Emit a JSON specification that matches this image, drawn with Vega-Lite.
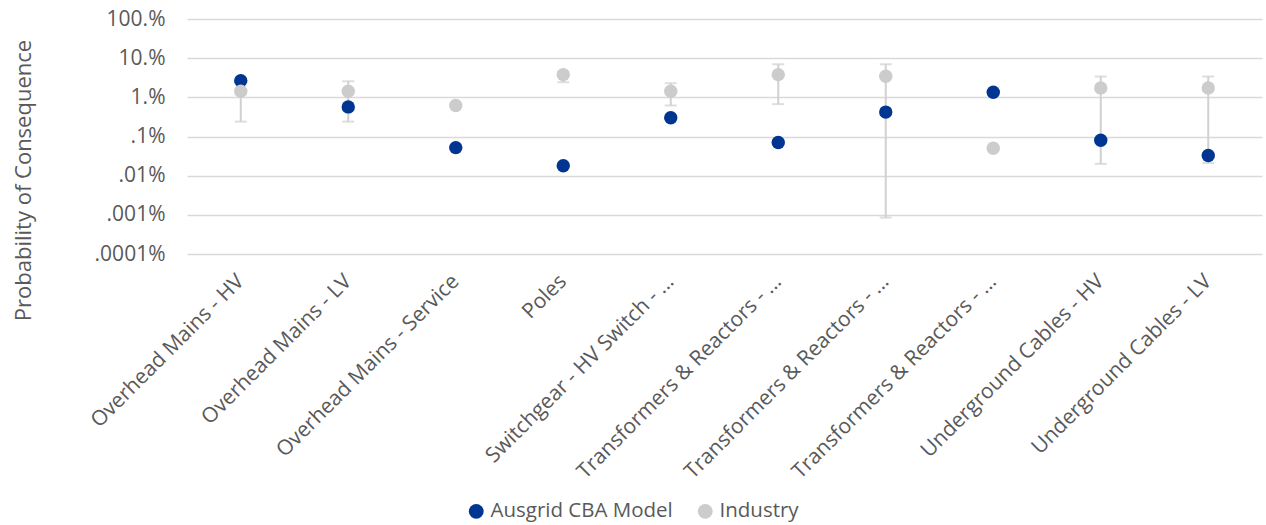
{
  "$schema": "https://vega.github.io/schema/vega-lite/v6.json",
  "width": 1075,
  "height": 235,
  "autosize": "none",
  "padding": {"left": 187, "top": 19, "right": 4, "bottom": 271},
  "background": "white",
  "config": {
    "view": {"stroke": null},
    "font": "Open Sans",
    "axis": {"labelFont": "Open Sans", "titleFont": "Open Sans", "labelColor": "#595959", "titleColor": "#595959"}
  },
  "data": {
    "values": [
      {"category": "Overhead Mains - HV", "series": "Ausgrid CBA Model", "value": 2.67},
      {"category": "Overhead Mains - LV", "series": "Ausgrid CBA Model", "value": 0.57},
      {"category": "Overhead Mains - Service", "series": "Ausgrid CBA Model", "value": 0.052},
      {"category": "Poles", "series": "Ausgrid CBA Model", "value": 0.018},
      {"category": "Switchgear - HV Switch - ...", "series": "Ausgrid CBA Model", "value": 0.30},
      {"category": "Transformers & Reactors - 1", "series": "Ausgrid CBA Model", "value": 0.070},
      {"category": "Transformers & Reactors - 2", "series": "Ausgrid CBA Model", "value": 0.42},
      {"category": "Transformers & Reactors - 3", "series": "Ausgrid CBA Model", "value": 1.35},
      {"category": "Underground Cables - HV", "series": "Ausgrid CBA Model", "value": 0.080},
      {"category": "Underground Cables - LV", "series": "Ausgrid CBA Model", "value": 0.0326},
      {"category": "Overhead Mains - HV", "series": "Industry", "value": 1.43, "low": 0.24, "high": 2.5},
      {"category": "Overhead Mains - LV", "series": "Industry", "value": 1.43, "low": 0.24, "high": 2.57},
      {"category": "Overhead Mains - Service", "series": "Industry", "value": 0.62},
      {"category": "Poles", "series": "Industry", "value": 3.8, "low": 2.43, "high": 4.5},
      {"category": "Switchgear - HV Switch - ...", "series": "Industry", "value": 1.43, "low": 0.62, "high": 2.29},
      {"category": "Transformers & Reactors - 1", "series": "Industry", "value": 3.8, "low": 0.67, "high": 6.98},
      {"category": "Transformers & Reactors - 2", "series": "Industry", "value": 3.45, "low": 0.00085, "high": 6.98},
      {"category": "Transformers & Reactors - 3", "series": "Industry", "value": 0.050},
      {"category": "Underground Cables - HV", "series": "Industry", "value": 1.74, "low": 0.020, "high": 3.4},
      {"category": "Underground Cables - LV", "series": "Industry", "value": 1.74, "low": 0.021, "high": 3.4}
    ]
  },
  "encoding": {
    "x": {
      "field": "category",
      "type": "nominal",
      "sort": ["Overhead Mains - HV", "Overhead Mains - LV", "Overhead Mains - Service", "Poles", "Switchgear - HV Switch - ...", "Transformers & Reactors - 1", "Transformers & Reactors - 2", "Transformers & Reactors - 3", "Underground Cables - HV", "Underground Cables - LV"],
      "scale": {"paddingInner": 0, "paddingOuter": 0},
      "axis": {
        "title": null,
        "labelAngle": -45,
        "labelAlign": "right",
        "labelBaseline": "middle",
        "labelPadding": 24,
        "labelFontSize": 21,
        "labelLimit": 400,
        "labelExpr": "replace(datum.label, regexp('- [0-9]$'), '- ...')",
        "domain": false,
        "ticks": false,
        "grid": false
      }
    }
  },
  "layer": [
    {
      "transform": [{"filter": "isValid(datum.low)"}],
      "mark": {"type": "rule", "color": "#d0d0d0", "strokeWidth": 2},
      "encoding": {
        "y": {"field": "low", "type": "quantitative", "scale": {"type": "log", "domain": [0.0001, 100], "nice": false}},
        "y2": {"field": "high"}
      }
    },
    {
      "transform": [{"filter": "isValid(datum.low)"}],
      "mark": {"type": "tick", "color": "#d0d0d0", "thickness": 2, "size": 12, "orient": "horizontal"},
      "encoding": {
        "y": {"field": "low", "type": "quantitative"}
      }
    },
    {
      "transform": [{"filter": "isValid(datum.low)"}],
      "mark": {"type": "tick", "color": "#d0d0d0", "thickness": 2, "size": 12, "orient": "horizontal"},
      "encoding": {
        "y": {"field": "high", "type": "quantitative"}
      }
    },
    {
      "mark": {"type": "point", "filled": true, "opacity": 1, "size": 180, "shape": "circle"},
      "encoding": {
        "y": {
          "field": "value",
          "type": "quantitative",
          "scale": {"type": "log", "domain": [0.0001, 100], "nice": false},
          "axis": {
            "title": "Probability of Consequence",
            "titleFontSize": 22,
            "titleFontWeight": "normal",
            "titlePadding": 59,
            "titleY": 161,
            "titleAlign": "center",
            "values": [0.0001, 0.001, 0.01, 0.1, 1, 10, 100],
            "labelExpr": "datum.value >= 1 ? format(datum.value, 'd') + '.%' : replace(format(datum.value, '~g'), '0.', '.') + '%'",
            "labelFontSize": 21,
            "labelPadding": 22,
            "domain": false,
            "ticks": false,
            "grid": true,
            "gridColor": "#d9d9d9",
            "gridWidth": 1.5
          }
        },
        "color": {
          "field": "series",
          "type": "nominal",
          "scale": {"domain": ["Ausgrid CBA Model", "Industry"], "range": ["#003591", "#cccccc"]},
          "legend": {
            "title": null,
            "orient": "none",
            "direction": "horizontal",
            "legendX": 279,
            "legendY": 482,
            "labelFontSize": 20.5,
            "labelFont": "Open Sans",
            "labelColor": "#595959",
            "labelLimit": 400,
            "symbolType": "circle",
            "symbolSize": 220,
            "columnPadding": 22,
            "symbolOpacity": 1
          }
        }
      }
    }
  ]
}
